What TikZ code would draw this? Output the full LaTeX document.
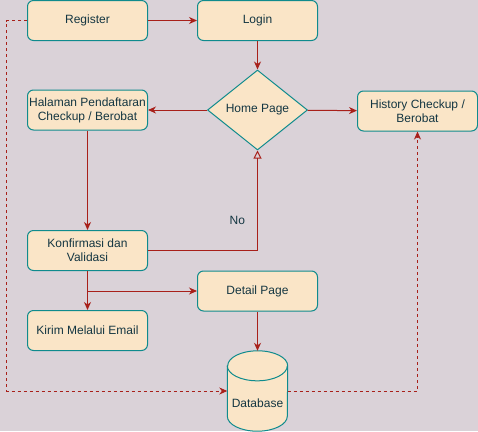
\documentclass[tikz,border=0pt]{standalone}
\usepackage{fontspec}
\setmainfont{Liberation Sans}
\usetikzlibrary{arrows.meta,shapes.geometric,calc}
\definecolor{bgpage}{HTML}{DAD2D8}
\definecolor{boxfill}{HTML}{FAE5C7}
\definecolor{boxline}{HTML}{0F8B8D}
\definecolor{flowline}{HTML}{A8201A}
\definecolor{boxtext}{HTML}{143642}
\tikzset{
  box/.style = {shape=rectangle, rounded corners=6pt, draw=boxline, fill=boxfill,
    line width=1pt, text=boxtext, minimum width=120pt, minimum height=40pt,
    align=center, inner sep=0pt, font=\fontsize{12}{14}\selectfont},
  decision/.style = {shape=diamond, draw=boxline, fill=boxfill, line width=1pt,
    text=boxtext, minimum width=100pt, minimum height=80pt, inner sep=0pt,
    font=\fontsize{12}{14}\selectfont},
  flow/.style = {draw=flowline, line width=1pt,
    -{Stealth[length=8pt,width=7pt,inset=2.5pt]}},
  dflow/.style = {flow, dash pattern=on 3pt off 3pt},
  backflow/.style = {draw=flowline, line width=1pt,
    -{Triangle[open,length=8pt,width=8pt]}},
  tag/.style = {text=boxtext, inner sep=0pt, font=\fontsize{12}{14}\selectfont},
}

\begin{document}
\begin{tikzpicture}[
      x=1pt,y=-1pt,
      ]
      \fill[bgpage] (0,0) rectangle (478,431);
      \useasboundingbox (0,0) rectangle (478,431);

      \path
        (87.5,20.5)  node(reg)[box]{Register}
        (257.5,20.5) node(login)[box]{Login}
        (257.5,110)  node(home)[decision]{Home Page}
        (87.5,110)   node(hal)[box]{Halaman Pendaftaran\\Checkup / Berobat}
        (417.5,111)  node(hist)[box]{History Checkup /\\Berobat}
        (87.5,250.5) node(konf)[box]{Konfirmasi dan\\Validasi}
        (257.5,291)  node(detail)[box]{Detail Page}
        (87.5,330.5) node(kirim)[box]{Kirim Melalui Email}
        (257.5,391)  node(db)[shape=rectangle, minimum width=60pt, minimum height=80pt, inner sep=0pt]{}
      ;

      % database cylinder
      \filldraw[draw=boxline, fill=boxfill, line width=1pt]
        ([yshift=-15pt]db.north west) -- ([yshift=15pt]db.south west)
        arc[start angle=180, end angle=360, x radius=30pt, y radius=15pt]
        -- ([yshift=-15pt]db.north east)
        arc[start angle=0, end angle=180, x radius=30pt, y radius=15pt] -- cycle;
      \draw[boxline, line width=1pt] ([yshift=-15pt]db.north west)
        arc[start angle=180, end angle=360, x radius=30pt, y radius=15pt];
      \node(dbtext)[tag] at ([yshift=-12pt]db.center) {Database};

      \coordinate (split) at (konf.south |- detail.west);

      \draw[flow] (reg) -- (login);
      \draw[flow] (login) -- (home);
      \draw[flow] (home) -- (hal);
      \draw[flow] (home) -- (hist);
      \draw[flow] (hal) -- (konf);
      \draw[backflow] (konf.east) -| node[tag, pos=0.65, left=12pt]{No} (home.south);
      \draw[flow] (konf) -- (kirim);
      \draw[flow] (split) -- (detail);
      \draw[flow] (detail) -- (db);
      \draw[dflow] (reg.west) -- ++(-20.5,0) |- (db.west);
      \draw[dflow] (db.east) -| (hist.south);
    \end{tikzpicture}
\end{document}
